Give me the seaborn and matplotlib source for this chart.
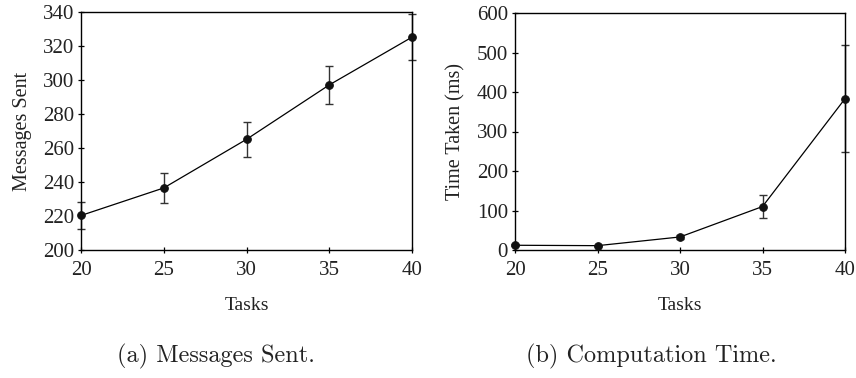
import matplotlib
matplotlib.use("Agg")
import matplotlib.pyplot as plt
import seaborn as sns
import pandas as pd
import numpy as np

tasks = [20, 25, 30, 35, 40]
messages_mean = [220.3, 236.5, 265.1, 297.1, 325.2]
messages_err = [7.7, 8.6, 10.2, 11.2, 13.4]
time_mean = [12, 11, 33, 110, 383]
time_err = [3, 2, 4, 29, 135]

sns.set_theme(style="white")
plt.rcParams['font.family'] = ['Liberation Serif', 'DejaVu Serif']

fig = plt.figure(figsize=(8.56, 3.78), dpi=100)
W, H = 856, 378
ax1 = fig.add_axes([81 / W, (H - 250) / H, 331 / W, 238 / H])
ax2 = fig.add_axes([515 / W, (H - 250) / H, 330 / W, 237 / H])

panels = [
    (ax1, messages_mean, messages_err, "Messages Sent", (200, 340), np.arange(200, 341, 20)),
    (ax2, time_mean, time_err, "Time Taken (ms)", (0, 600), np.arange(0, 601, 100)),
]

txt = "#222222"
for ax, mean, err, ylabel, ylim, yticks in panels:
    df = pd.DataFrame({"Tasks": tasks, "val": mean})
    ax.errorbar(tasks, mean, yerr=err, fmt="none", ecolor="#333333",
                elinewidth=1.0, capsize=3, capthick=1.0, zorder=2, clip_on=False)
    sns.lineplot(data=df, x="Tasks", y="val", ax=ax, color="black",
                 linewidth=0.9, marker="o", markersize=5.5,
                 markerfacecolor="#111111", markeredgecolor="#111111", zorder=3,
                 clip_on=False)
    ax.set_xlim(20, 40)
    ax.set_ylim(*ylim)
    ax.set_xticks(tasks)
    ax.set_yticks(yticks)
    ax.set_xlabel("Tasks", fontsize=14, labelpad=12, color=txt)
    ax.set_ylabel(ylabel, fontsize=14.5, labelpad=8, color=txt)
    for s in ax.spines.values():
        s.set_color("black")
        s.set_linewidth(1.0)
    ax.tick_params(axis="both", direction="inout", length=4, width=0.9,
                   colors="black", labelcolor=txt, labelsize=15, left=True, bottom=True)
    ax.tick_params(axis="x", pad=6)
    ax.tick_params(axis="y", pad=3)
    ax.grid(False)

fig.text(216 / W, 1 - 356 / H, "(a) Messages Sent.", ha="center", va="center",
         fontsize=17.5, family=["cmr10", "DejaVu Serif"], color=txt)
fig.text(651 / W, 1 - 356 / H, "(b) Computation Time.", ha="center", va="center",
         fontsize=17.5, family=["cmr10", "DejaVu Serif"], color=txt)

fig.savefig("out.png", dpi=100, facecolor="white")
